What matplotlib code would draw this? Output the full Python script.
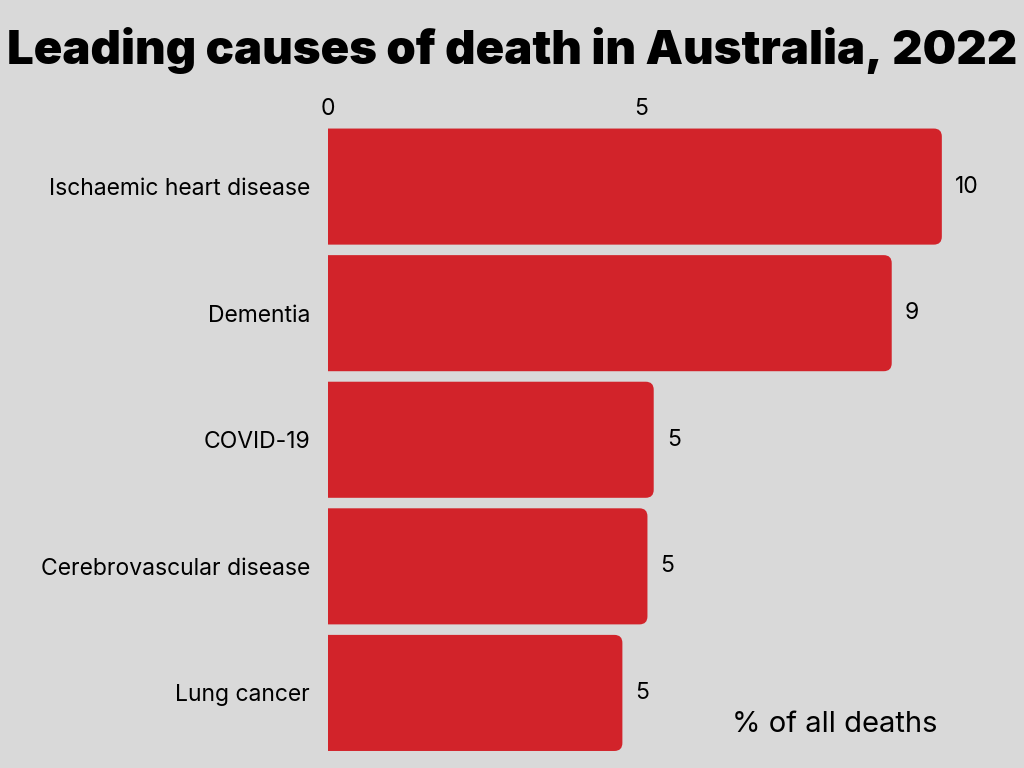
import matplotlib.pyplot as plt
from matplotlib.patches import FancyBboxPatch

causes = ['Ischaemic heart disease', 'Dementia', 'COVID-19',
          'Cerebrovascular disease', 'Lung cancer']
share = [9.8, 9.0, 5.2, 5.1, 4.7]
labels = ['10', '9', '5', '5', '5']

bg = '#d9d9d9'
red = '#d2232a'
plt.rcParams['font.family'] = ['Inter', 'DejaVu Sans']

W, H = 1024, 768
fig = plt.figure(figsize=(W / 100, H / 100), dpi=100, facecolor=bg)
# axes in pixel terms: left 328, right 1017, top 120, bottom 768
ax = fig.add_axes([328 / W, 0, (1017 - 328) / W, (768 - 120) / H])
ax.set_facecolor(bg)
ax.set_xlim(0, 11)
ax.set_ylim(4.593, -0.526)

px_x = 11 / (1017 - 328)
px_y = (4.593 + 0.526) / (768 - 120)
h = 0.917
r = 8  # corner radius, pixels
for i, v in enumerate(share):
    box = FancyBboxPatch((-1, i - h / 2 + r * px_y), v + 1 - r * px_x, h - 2 * r * px_y,
                         boxstyle='round,pad=%f,rounding_size=%f' % (r * px_x, r * px_x),
                         mutation_aspect=px_y / px_x, fc=red, ec='none')
    ax.add_patch(box)
    ax.text(v + 13 * px_x, i, labels[i], va='center', ha='left', fontsize=16.5)

ax.set_yticks(range(len(causes)))
ax.set_yticklabels(causes, fontsize=16.5)
ax.set_xticks([0, 5])
ax.set_xticklabels(['0', '5'], fontsize=16.5)
ax.xaxis.tick_top()
ax.tick_params(length=0)
ax.tick_params(axis='x', pad=0)
ax.tick_params(axis='y', pad=13)
for s in ax.spines.values():
    s.set_visible(False)

fig.text(0.5, 1 - 50 / H, 'Leading causes of death in Australia, 2022',
         ha='center', va='center', fontsize=34, fontweight='black')
fig.text(835 / W, 1 - 725 / H, '% of all deaths', ha='center', va='center', fontsize=21)

fig.savefig('out.png', dpi=100, facecolor=bg)
